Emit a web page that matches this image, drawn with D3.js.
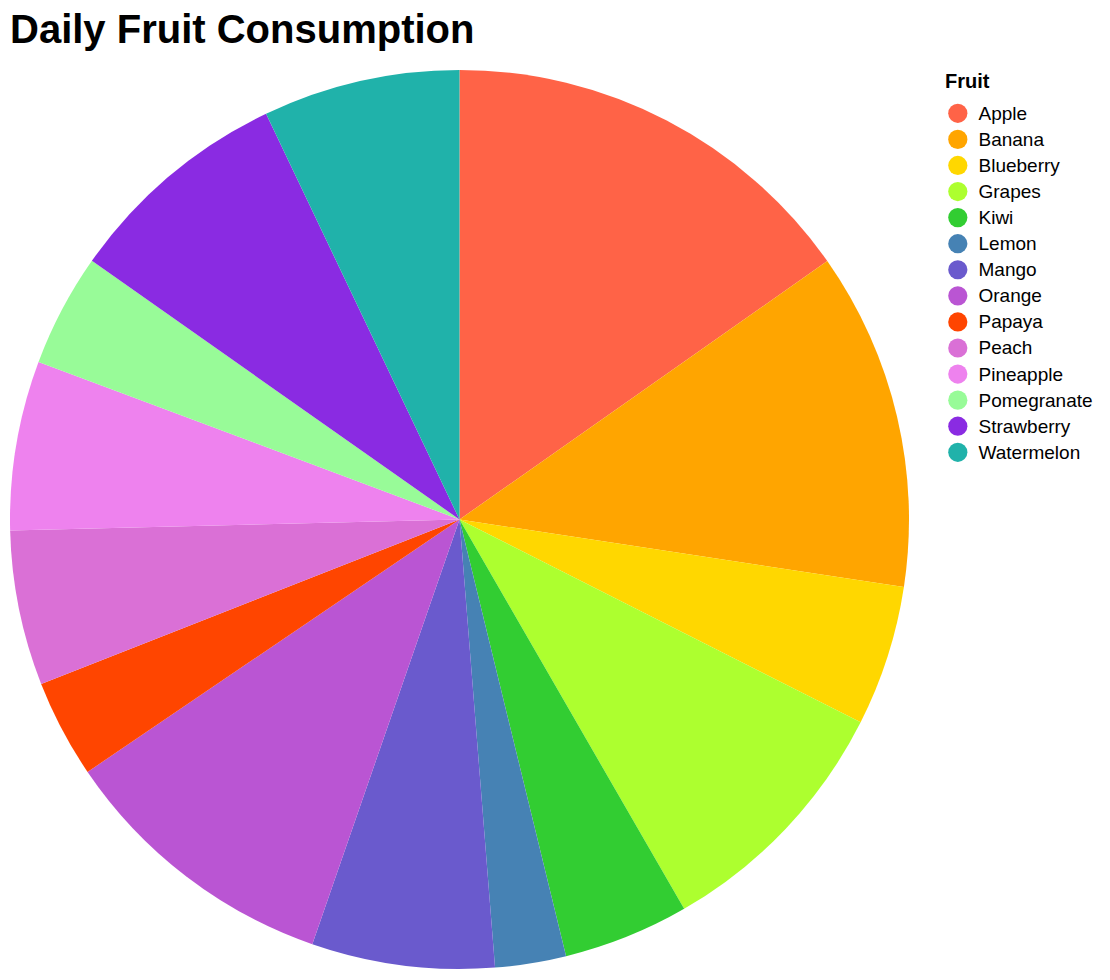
<!DOCTYPE html>
<html>
<head>
<meta charset="utf-8">
<script src="https://cdn.jsdelivr.net/npm/d3@7"></script>
<style>
  html, body { margin: 0; padding: 0; background: #fff; }
  svg { display: block; font-family: "Liberation Sans", Arial, Helvetica, sans-serif; }
</style>
</head>
<body>
<svg id="chart" width="1110" height="980"></svg>
<script>
const fruits = ["Apple","Banana","Blueberry","Grapes","Kiwi","Lemon","Mango","Orange","Papaya","Peach","Pineapple","Pomegranate","Strawberry","Watermelon"];
const consumption = [15.25, 12.15, 5.05, 9.22, 4.52, 2.55, 6.57, 10.2, 3.53, 5.57, 6.09, 4.06, 8.16, 7.08];
const colors = ["#FF6347","#FFA500","#FFD700","#ADFF2F","#32CD32","#4682B4","#6A5ACD","#BA55D3","#FF4500","#DA70D6","#EE82EE","#98FB98","#8A2BE2","#20B2AA"];
const titleText = "Daily Fruit Consumption";
const legendTitle = "Fruit";

const data = fruits.map((f, i) => ({ fruit: f, value: consumption[i] }));
const svg = d3.select("#chart");
const color = d3.scaleOrdinal().domain(fruits).range(colors);

const cx = 459.5, cy = 519.5, R = 449.5;

const pie = d3.pie().sort(null).value(d => d.value);
const arc = d3.arc().innerRadius(0).outerRadius(R);

svg.append("g")
  .attr("transform", `translate(${cx},${cy})`)
  .selectAll("path")
  .data(pie(data))
  .join("path")
  .attr("d", arc)
  .attr("fill", d => color(d.data.fruit));

svg.append("text")
  .attr("x", 10).attr("y", 43)
  .attr("font-size", 40).attr("font-weight", "bold").attr("fill", "#000")
  .text(titleText);

const lg = svg.append("g");
lg.append("text")
  .attr("x", 945).attr("y", 88)
  .attr("font-size", 20).attr("font-weight", "bold").attr("fill", "#000")
  .text(legendTitle);

const y = d3.scalePoint().domain(fruits).range([113.3, 452.3]);
const items = lg.selectAll("g.item").data(fruits).join("g")
  .attr("class", "item")
  .attr("transform", d => `translate(0,${y(d)})`);
items.append("circle").attr("cx", 957.8).attr("cy", 0).attr("r", 9.6).attr("fill", d => color(d));
items.append("text").attr("x", 978.5).attr("y", 6.5)
  .attr("font-size", 19).attr("fill", "#000").text(d => d);
</script>
</body>
</html>
